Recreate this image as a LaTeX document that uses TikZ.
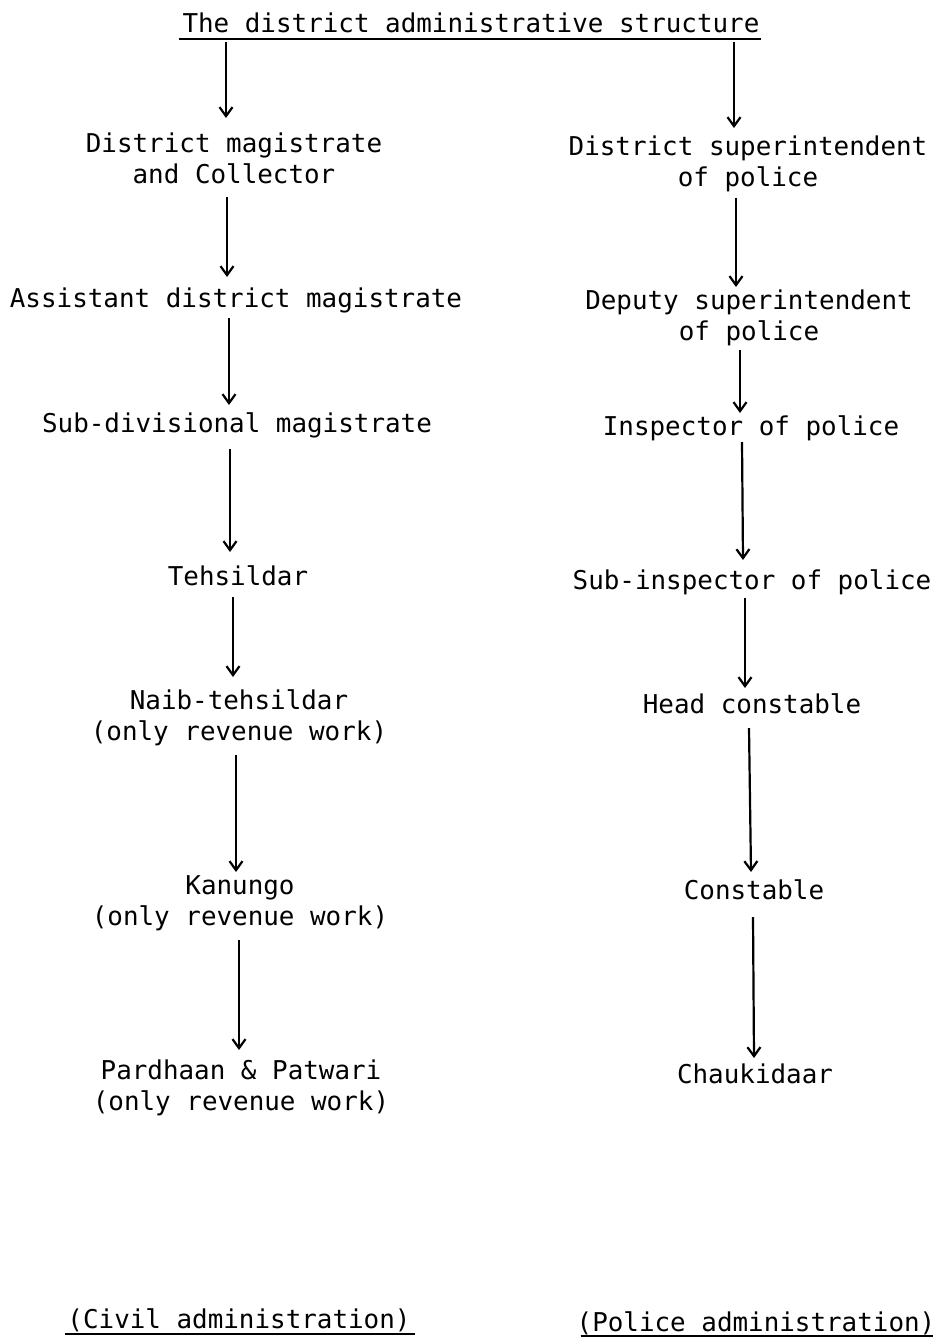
\documentclass[tikz,border=0pt]{standalone}
\usepackage{fontspec}
\newfontfamily\dmono{DejaVu Sans Mono}
\usetikzlibrary{arrows.meta}
\begin{document}
\begin{tikzpicture}[x=1pt,y=-1pt,
  lbl/.style={font=\dmono\fontsize{25.9}{31}\selectfont, inner sep=0pt, outer sep=0pt, anchor=base, align=center},
  arr/.style={-{Straight Barb[length=9pt,width=13pt,line width=2.2pt]}, line width=2.2pt},
  uline/.style={line width=2pt}]
\useasboundingbox (0,0) rectangle (937,1337);
% title
\node[lbl] (title) at (471,33) {The district administrative structure};
\draw[uline] ([shift={(-4,6)}]title.base west) -- ([shift={(2,6)}]title.base east);
% civil column (base = baseline of last line)
\node[lbl] (dm)   at (234,184)  {District magistrate\\and Collector};
\node[lbl] (adm)  at (236,307)  {Assistant district magistrate};
\node[lbl] (sdm)  at (237,432)  {Sub-divisional magistrate};
\node[lbl] (teh)  at (238,585)  {Tehsildar};
\node[lbl] (naib) at (239,740)  {Naib-tehsildar\\(only revenue work)};
\node[lbl] (kan)  at (240,925)  {Kanungo\\(only revenue work)};
\node[lbl] (par)  at (241,1110) {Pardhaan \& Patwari\\(only revenue work)};
\node[lbl] (civil) at (239,1328) {(Civil administration)};
\draw[uline] ([shift={(-2,6)}]civil.base west) -- ([shift={(4,6)}]civil.base east);
% police column
\node[lbl] (ds)    at (748,187)  {District superintendent\\of police};
\node[lbl] (dsp)   at (749,340)  {Deputy superintendent\\of police};
\node[lbl] (insp)  at (751,435)  {Inspector of police};
\node[lbl] (sinsp) at (752,589)  {Sub-inspector of police};
\node[lbl] (head)  at (752,713)  {Head constable};
\node[lbl] (con)   at (754,899)  {Constable};
\node[lbl] (chauk) at (755,1083) {Chaukidaar};
\node[lbl] (police) at (756,1331) {(Police administration)};
\draw[uline] ([shift={(4,5)}]police.base west) -- ([shift={(-2,5)}]police.base east);
% connectors
\draw[arr] ([shift={(-245,9)}]title.base) -- ([shift={(-8,-66)}]dm.base);
\draw[arr] ([shift={(263,9)}]title.base) -- ([shift={(-14,-59)}]ds.base);
\draw[arr] ([shift={(-7,13)}]dm.base) -- ([shift={(-9,-30)}]adm.base);
\draw[arr] ([shift={(-7,11)}]adm.base) -- ([shift={(-8,-27)}]sdm.base);
\draw[arr] ([shift={(-7,17)}]sdm.base) -- ([shift={(-8,-33)}]teh.base);
\draw[arr] ([shift={(-5,12)}]teh.base) -- ([shift={(-6,-63)}]naib.base);
\draw[arr] ([shift={(-3,15)}]naib.base) -- ([shift={(-4,-53)}]kan.base);
\draw[arr] ([shift={(-1,15)}]kan.base) -- ([shift={(-2,-60)}]par.base);
\draw[arr] ([shift={(-12,11)}]ds.base) -- ([shift={(-13,-53)}]dsp.base);
\draw[arr] ([shift={(-9,10)}]dsp.base) -- ([shift={(-11,-22)}]insp.base);
\draw[arr] ([shift={(-9,7)}]insp.base) -- ([shift={(-9,-29)}]sinsp.base);
\draw[arr] ([shift={(-7,9)}]sinsp.base) -- ([shift={(-7,-25)}]head.base);
\draw[arr] ([shift={(-3,15)}]head.base) -- ([shift={(-3,-27)}]con.base);
\draw[arr] ([shift={(-1,18)}]con.base) -- ([shift={(-1,-25)}]chauk.base);
\end{tikzpicture}
\end{document}
